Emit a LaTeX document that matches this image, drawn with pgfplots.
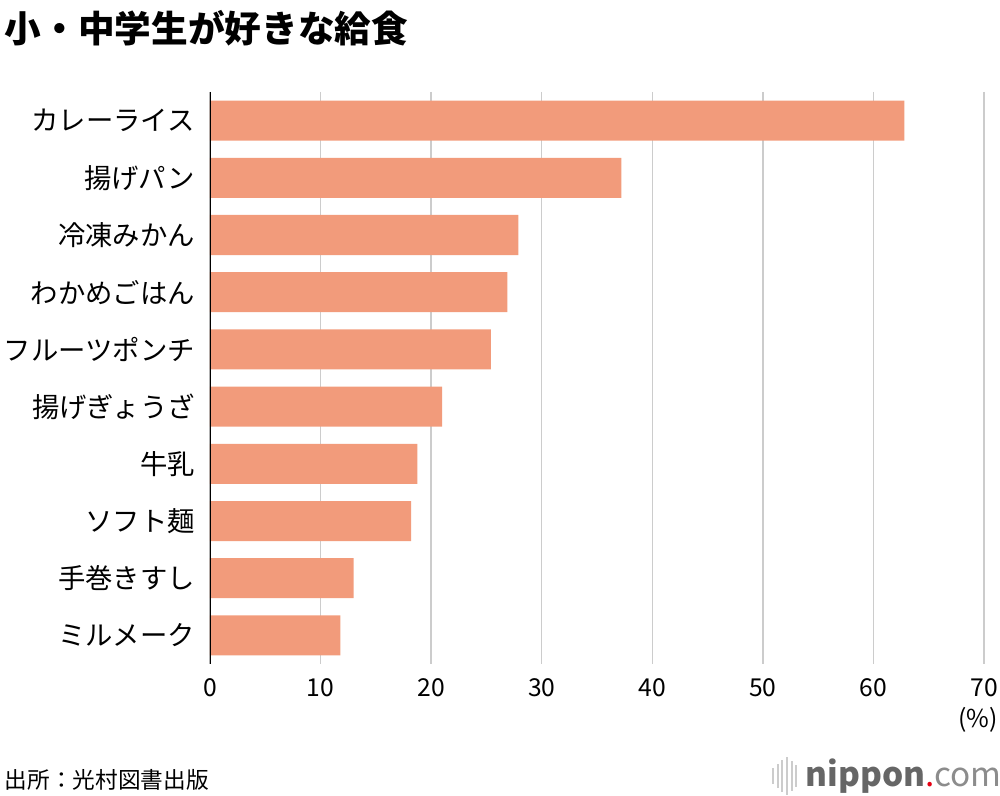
\documentclass[border=0pt]{standalone}
\usepackage{fontspec}
\setmainfont{Noto Sans CJK JP}
\usepackage{pgfplots}
\pgfplotsset{compat=1.18}
\definecolor{barc}{HTML}{F29B7B}
\definecolor{gridc}{HTML}{CCCCCC}
\definecolor{logog}{HTML}{666666}
\definecolor{logol}{HTML}{8C8C8C}
\definecolor{logor}{HTML}{E60012}
\begin{document}
\begin{tikzpicture}[x=1pt,y=1pt]
\path[use as bounding box] (0,0) rectangle (750,597);
\begin{axis}[at={(157.5pt,99pt)}, anchor=south west, scale only axis,
  width=580.5pt, height=429pt,
  xmin=0, xmax=70, ymin=-0.5, ymax=9.5, y dir=reverse,
  xbar, bar width=30pt, bar shift=0pt,
  xtick={0,10,...,70}, ytick={0,...,9},
  yticklabels={カレーライス,揚げパン,冷凍みかん,わかめごはん,フルーツポンチ,揚げぎょうざ,牛乳,ソフト麺,手巻きすし,ミルメーク},
  xmajorgrids, major grid style={gridc, line width=1.1pt},
  axis line style={draw=none}, tick style={draw=none},
  /pgf/number format/assume math mode=true,
  xticklabel style={font=\fontsize{18.5}{20}\selectfont, anchor=base, yshift=-24.5pt},
  yticklabel style={font=\fontsize{20.5}{22}\selectfont, anchor=east, inner sep=0pt, xshift=-7pt},
]
\addplot[fill=barc, draw=none] coordinates {
(62.8,0) (37.2,1) (27.9,2) (26.9,3) (25.4,4) (21.0,5) (18.75,6) (18.2,7) (13.0,8) (11.8,9)};
\draw[black, line width=1.3pt] (axis cs:0,-0.5) -- (axis cs:0,9.5);
\end{axis}
\node[anchor=west, inner sep=0pt] at (3.5,576) {\fontsize{27.5}{30}\selectfont\bfseries 小・中学生が好きな給食};
\node[anchor=west, inner sep=0pt] at (3.5,12) {\fontsize{17}{19}\selectfont 出所：光村図書出版};
\node[anchor=east, inner sep=0pt] at (748.5,57) {\fontsize{18.5}{20}\selectfont (\%)};
% logo
\foreach \xx/\hh in {579/6,582.5/9,586/12,589.5/14,593/11,596.5/8}{
  \fill[gridc] (\xx,15-\hh) rectangle ++(1.6,2*\hh);
}
\node[anchor=west, inner sep=0pt] at (604,15) {\fontsize{25}{27}\selectfont\textcolor{logog}{\bfseries nippon}\textcolor{logor}{.}\textcolor{logol}{com}};
\end{tikzpicture}
\end{document}
